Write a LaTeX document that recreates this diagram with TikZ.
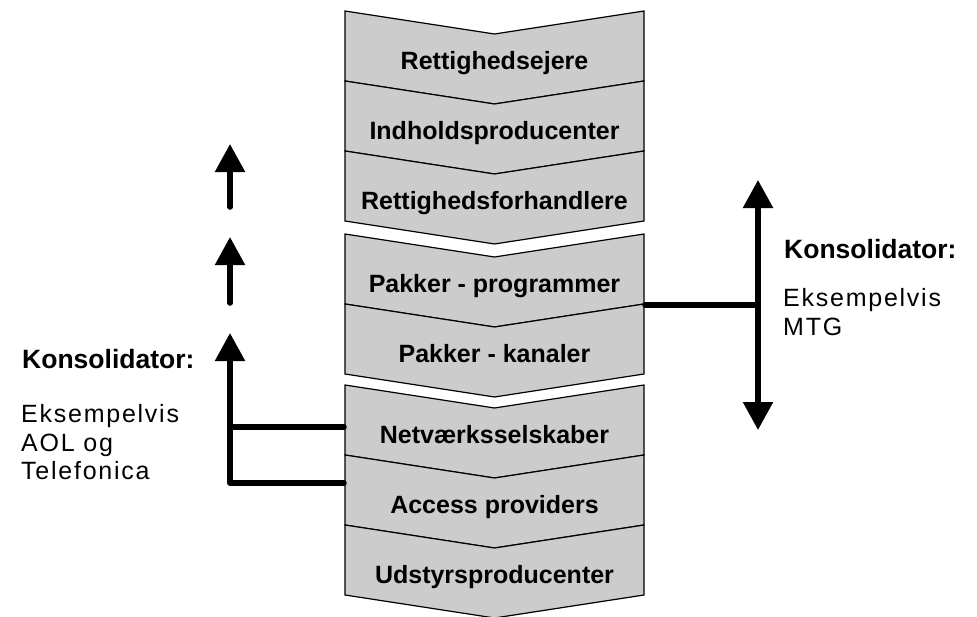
\documentclass[tikz,border=0pt]{standalone}
\usepackage{fontspec}
\setmainfont{Liberation Sans}
\newfontfamily\spacedfont[LetterSpace=7]{Liberation Sans}
\usetikzlibrary{arrows.meta}

\tikzset{
  chevbox/.style={draw=black, line width=1.2pt, fill=black!20, line join=miter},
  chevtext/.style={anchor=base, inner sep=0pt, font=\bfseries\fontsize{25}{30}\selectfont},
  headline/.style={anchor=base west, inner sep=0pt, font=\bfseries\fontsize{26.5}{30}\selectfont},
  bodyline/.style={anchor=base west, inner sep=0pt, font=\spacedfont\fontsize{25}{28.5}\selectfont},
  flow/.style={line width=5.5pt, line cap=round, line join=round},
  uptip/.style={-{Triangle[width=29pt,length=28pt]}},
  bothtips/.style={{Triangle[width=29pt,length=28pt]}-{Triangle[width=29pt,length=28pt]}}
}

% one downward chevron of the value chain: name, top edge (px from top), label
\newcommand\chainstep[3]{%
  \coordinate (#1-nw) at (345,-#2);
  \coordinate (#1-ne) at (644,-#2);
  \coordinate (#1-sw) at (345,-#2-70);
  \coordinate (#1-se) at (644,-#2-70);
  \draw[chevbox] (#1-nw) -- (494.5,-#2-23) -- (#1-ne) -- (#1-se)
    -- (494.5,-#2-93) -- (#1-sw) -- cycle;
  \node[chevtext] (#1) at (494.5,-#2-58) {#3};
}

\begin{document}
\begin{tikzpicture}[x=1pt,y=1pt]
\useasboundingbox (0,0) rectangle (977,-616);

% content rights
\chainstep{s1}{11}{Rettighedsejere}
\chainstep{s2}{81}{Indholdsproducenter}
\chainstep{s3}{151}{Rettighedsforhandlere}
% packaging
\chainstep{s4}{234}{Pakker - programmer}
\chainstep{s5}{304}{Pakker - kanaler}
% distribution
\chainstep{s6}{385}{Netværksselskaber}
\chainstep{s7}{455}{Access providers}
\chainstep{s8}{525}{Udstyrsproducenter}

% left: upward integration
\coordinate (a1t) at (230,-207); \coordinate (a1h) at (230,-144);
\coordinate (a2t) at (230,-303); \coordinate (a2h) at (230,-237);
\coordinate (a3c) at (230,-483); \coordinate (a3h) at (230,-333);
\coordinate (a3j) at (230,-427);
\coordinate (n6) at (344,-427);
\coordinate (n7) at (344,-483);
\draw[flow, uptip] (a1t) -- (a1h);
\draw[flow, uptip] (a2t) -- (a2h);
\draw[flow, uptip] (n7) -- (a3c) -- (a3h);
\draw[flow] (n6) -- (a3j);

\node[headline] (lk) at (22,-368.3) {Konsolidator:};
\node[bodyline] (le1) at (21,-422.3) {Eksempelvis};
\node[bodyline] (le2) at (21,-451) {AOL og};
\node[bodyline] (le3) at (21,-479.5) {Telefonica};

% right: integration both ways
\coordinate (bt) at (758,-180); \coordinate (bb) at (758,-430);
\coordinate (bj) at (758,-305);
\coordinate (n4) at (645,-305);
\draw[flow, bothtips] (bt) -- (bb);
\draw[flow] (n4) -- (bj);

\node[headline] (rk) at (784,-258.3) {Konsolidator:};
\node[bodyline] (re1) at (783,-306) {Eksempelvis};
\node[bodyline] (re2) at (783,-335) {MTG};
\end{tikzpicture}
\end{document}
